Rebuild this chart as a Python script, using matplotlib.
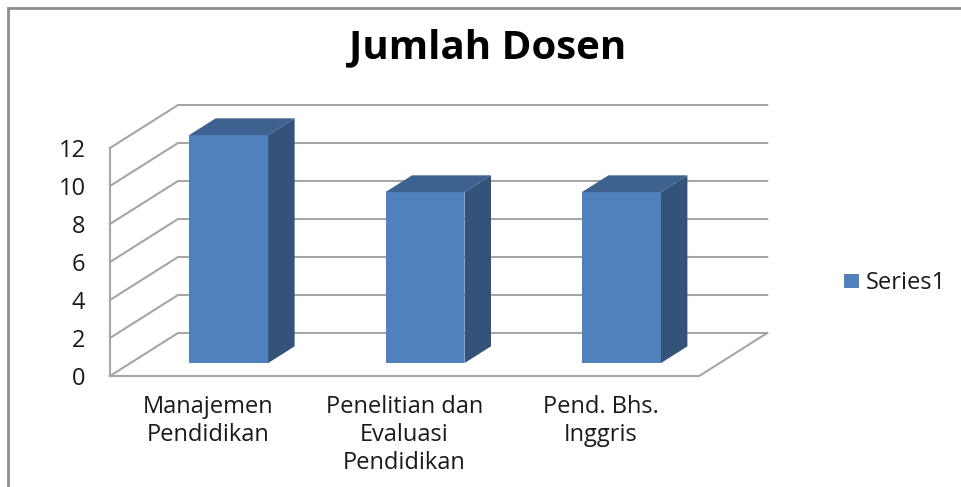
import matplotlib
matplotlib.use("Agg")
import matplotlib.pyplot as plt
from matplotlib.patches import Polygon, Patch

categories = ["Manajemen\nPendidikan", "Penelitian dan\nEvaluasi\nPendidikan", "Pend. Bhs.\nInggris"]
values = [12, 9, 9]
yticks = [0, 2, 4, 6, 8, 10, 12]
series_name = "Series1"
title = "Jumlah Dosen"

W, H = 961, 487
X0, XSTEP = 110, 196.4      # pixel of category origin, pixels per category
Y0, YSTEP = 376, 19.0       # pixel of value 0, pixels per unit
DX, DY = 68 / XSTEP, 43 / YSTEP  # shift of the full chart depth, in data units

FRONT = "#4F81BD"
SIDE = "#335379"
TOP = "#3D6290"
GRID = "#A6A6A6"
TEXT = "#1A1A1A"
FONT = "Open Sans"

fig = plt.figure(figsize=(W / 100, H / 100), dpi=100, facecolor="white")
ax = fig.add_axes([0, 0, 1, 1])
ax.set_xlim(-X0 / XSTEP, (W - X0) / XSTEP)
ax.set_ylim((Y0 - H) / YSTEP, Y0 / YSTEP)
ax.axis("off")


def pt(x, v, d=0.0):
    return (x + d * DX, v + d * DY)


# walls and gridlines
n = len(categories)
for t in yticks:
    ax.plot(*zip(pt(0, t), pt(0, t, 1), pt(n, t, 1)), color=GRID, lw=1.5, zorder=1,
            solid_joinstyle="miter")
ax.plot(*zip(pt(0, yticks[0]), pt(0, yticks[-1])), color=GRID, lw=1.5, zorder=1)
ax.plot(*zip(pt(0, yticks[0]), pt(n, yticks[0]), pt(n, yticks[0], 1)), color=GRID, lw=1.5, zorder=1)

# bars
width, d0, d1 = 0.402, 0.30, 0.69
for i, v in enumerate(values):
    xl = i + 0.5 - width / 2
    xr = xl + width
    ax.add_patch(Polygon([pt(xl, 0, d0), pt(xr, 0, d0), pt(xr, v, d0), pt(xl, v, d0)],
                         fc=FRONT, ec="none", zorder=3))
    ax.add_patch(Polygon([pt(xr, 0, d0), pt(xr, 0, d1), pt(xr, v, d1), pt(xr, v, d0)],
                         fc=SIDE, ec="none", zorder=3))
    ax.add_patch(Polygon([pt(xl, v, d0), pt(xr, v, d0), pt(xr, v, d1), pt(xl, v, d1)],
                         fc=TOP, ec="none", zorder=3))

# tick labels
for t in yticks:
    ax.text(-0.125, t - 0.16, str(t), ha="right", va="center", fontsize=17, color=TEXT, family=FONT)
for i, c in enumerate(categories):
    ax.text(i + 0.5, -1.0, c, ha="center", va="top", fontsize=17, color=TEXT, family=FONT,
            linespacing=1.22)

# title
fig.text(488 / W, 1 - 48 / H, title, ha="center", va="center", fontsize=29,
         fontweight="bold", color="black", family=FONT)

# legend
fig.legend(handles=[Patch(fc=FRONT, label=series_name)], loc="center left",
           bbox_to_anchor=(844 / W, 1 - 283 / H), frameon=False, handlelength=0.64,
           handleheight=0.55, handletextpad=0.3, borderaxespad=0, borderpad=0,
           prop={"family": FONT, "size": 17}, labelcolor=TEXT)

# chart frame (left and top edges)
fx = ax.get_xlim()[0] + 8 / XSTEP
fy = ax.get_ylim()[1] - 8 / YSTEP
ax.plot([fx, fx, ax.get_xlim()[1]], [ax.get_ylim()[0], fy, fy], color="#8C8C8C", lw=2, zorder=5,
        solid_joinstyle="miter")

fig.savefig("out.png", dpi=100)
